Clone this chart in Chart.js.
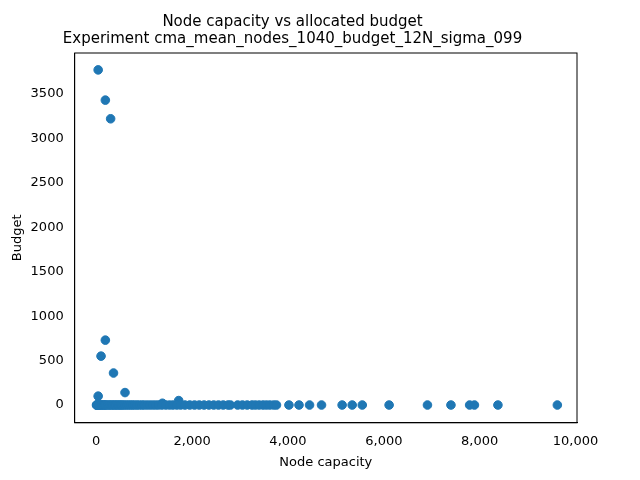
<!DOCTYPE html>
<html lang="en">
<head>
    <meta charset="UTF-8">
    <title>Node capacity vs allocated budget</title>
    <script src="https://cdn.jsdelivr.net/npm/chart.js"></script>
    <style>
        body { margin: 0; background: #fff; }
        #wrap { width: 640px; height: 480px; }
    </style>
</head>
<body>
    <div id="wrap"><canvas id="chart"></canvas></div>
    <script>
        // nodes with a non-zero budget
        const capacityHigh = [40, 300, 190, 190, 100, 360, 600, 40, 1720, 1380];
        const budgetHigh = [3770, 3220, 3430, 730, 550, 360, 140, 100, 50, 20];

        // nodes that got (almost) nothing
        const capacityZero = [
            5, 10, 15, 20, 30, 45, 60, 80, 100, 120, 140, 160, 180, 200, 230, 260, 290, 320,
            350, 380, 410, 440, 470, 500, 530, 560, 600, 640, 680, 720, 760, 800, 850, 900,
            950, 1000, 1060, 1120, 1180, 1240, 1300, 1370, 1450, 1530, 1600, 1680, 1760,
            1850, 1950, 2050, 2150, 2250, 2350, 2450, 2550, 2650, 2750, 2800, 2950, 3050,
            3150, 3250, 3320, 3400, 3480, 3550, 3620, 3700, 3760,
            4020, 4230, 4450, 4700, 5130, 5340, 5550, 6110, 6910, 7400, 7790, 7890, 8380, 9620
        ];
        const budgetZero = capacityZero.map(() => 0);

        const xTicks = [0, 2000, 4000, 6000, 8000, 10000];
        const yTicks = [0, 500, 1000, 1500, 2000, 2500, 3000, 3500];

        const points = capacityHigh.map((c, i) => ({ x: c, y: budgetHigh[i] }))
            .concat(capacityZero.map((c, i) => ({ x: c, y: budgetZero[i] })));

        const font = { family: 'DejaVu Sans', size: 13 };

        new Chart(document.getElementById('chart'), {
            type: 'scatter',
            data: {
                datasets: [{
                    data: points,
                    backgroundColor: '#1f77b4',
                    borderColor: '#1f77b4',
                    pointRadius: 4.3,
                    pointHoverRadius: 4.3
                }]
            },
            options: {
                responsive: true,
                maintainAspectRatio: false,
                animation: false,
                layout: { padding: { left: 8, right: 63, top: 12, bottom: 8 } },
                plugins: {
                    legend: { display: false },
                    title: {
                        display: true,
                        text: ['Node capacity vs allocated budget', 'Experiment cma_mean_nodes_1040_budget_12N_sigma_099'],
                        color: '#000',
                        font: { family: 'DejaVu Sans', size: 15, weight: 'normal', lineHeight: 1.1 },
                        padding: { top: 2, bottom: 6 }
                    }
                },
                scales: {
                    x: {
                        min: -450, max: 10030,
                        grid: { display: false },
                        border: { color: '#000' },
                        ticks: { color: '#000', font: font, maxRotation: 0 },
                        afterBuildTicks: a => { a.ticks = xTicks.map(v => ({ value: v })); },
                        title: { display: true, text: 'Node capacity', color: '#000', font: font, padding: 2 }
                    },
                    y: {
                        min: -200, max: 3960,
                        grid: { display: false },
                        border: { color: '#000' },
                        ticks: { color: '#000', font: font, callback: v => String(v) },
                        afterBuildTicks: a => { a.ticks = yTicks.map(v => ({ value: v })); },
                        title: { display: true, text: 'Budget', color: '#000', font: font, padding: 2 }
                    }
                }
            },
            plugins: [{
                id: 'frame',
                afterDraw(c) {
                    const a = c.chartArea, ctx = c.ctx;
                    ctx.save();
                    ctx.strokeStyle = '#000';
                    ctx.lineWidth = 1;
                    ctx.strokeRect(a.left, a.top, a.right - a.left, a.bottom - a.top);
                    ctx.restore();
                }
            }]
        });
    </script>
</body>
</html>
